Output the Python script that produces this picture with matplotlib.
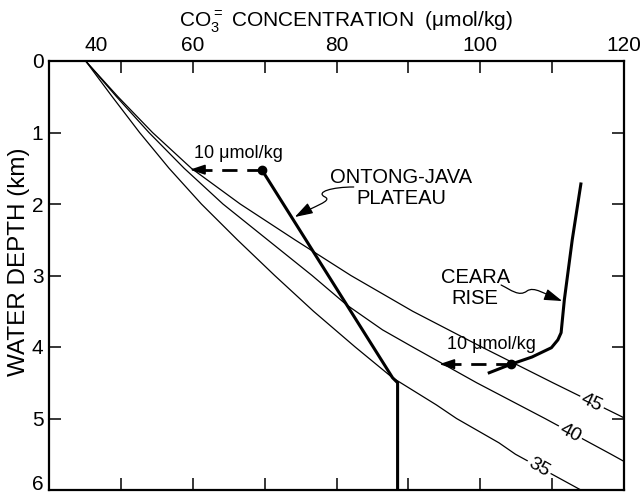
import matplotlib
matplotlib.use("Agg")
import matplotlib.pyplot as plt
from matplotlib.patches import FancyArrowPatch
from matplotlib.path import Path

plt.rcParams["font.family"] = ["Liberation Sans", "DejaVu Sans"]
plt.rcParams["mathtext.fontset"] = "custom"
plt.rcParams["mathtext.rm"] = "Liberation Sans"

# saturation curves (CO3= concentration vs depth), labelled by their value
sat_depth_45 = [0.0, 0.5, 1.0, 1.5, 2.0, 2.5, 3.0, 3.5, 4.0, 4.5, 4.99]
sat_conc_45 = [45.1, 49.6, 54.4, 59.8, 66.6, 74.2, 82.0, 90.6, 100.2, 110.1, 120.0]

sat_depth_40 = [0.0, 0.5, 1.0, 1.5, 2.0, 2.5, 3.0, 3.41, 3.76, 4.0, 4.5, 5.0, 5.5, 5.6]
sat_conc_40 = [45.1, 49.4, 53.9, 58.8, 64.2, 70.4, 76.6, 81.4, 86.4, 90.6, 99.5, 109.0, 118.2, 120.0]

sat_depth_35 = [0.0, 0.5, 1.0, 1.5, 2.0, 2.5, 3.0, 3.5, 4.0, 4.43, 4.81, 5.0, 5.34, 5.5, 6.0]
sat_conc_35 = [45.1, 48.8, 52.6, 56.7, 61.2, 66.2, 71.4, 76.8, 82.6, 87.8, 93.9, 96.7, 102.6, 104.9, 114.0]

sat_labels = ["45", "40", "35"]
sat_label_pos = [(115.5, 4.78), (112.5, 5.20), (108.2, 5.68)]
sat_label_rot = [-26, -28, -30]

# measured profiles
ontong_depth = [1.52, 4.43, 4.50, 6.0]
ontong_conc = [69.6, 87.8, 88.5, 88.5]

ceara_depth = [1.72, 2.5, 3.34, 3.80, 3.90, 4.01, 4.14, 4.24, 4.36]
ceara_conc = [114.0, 112.8, 111.7, 111.25, 110.8, 109.9, 107.2, 104.3, 101.25]

# 10 umol/kg offsets
shift = 10
ontong_dot = (69.6, 1.52)
ceara_dot = (104.3, 4.24)

x_ticks = [40, 60, 80, 100, 120]
x_minor = [50, 70, 90, 110]
y_ticks = [0, 1, 2, 3, 4, 5, 6]

fig = plt.figure(figsize=(6.4, 4.93), dpi=100)
ax = fig.add_axes([49 / 640, 3 / 493, 575 / 640, 429 / 493])

thin = dict(color="black", lw=0.9, solid_capstyle="butt")
ax.plot(sat_conc_45, sat_depth_45, **thin)
ax.plot(sat_conc_40, sat_depth_40, **thin)
ax.plot(sat_conc_35, sat_depth_35, **thin)

for text, (cx, cy), rot in zip(sat_labels, sat_label_pos, sat_label_rot):
    ax.text(cx, cy, text, fontsize=14, rotation=rot, rotation_mode="anchor",
            ha="center", va="center",
            bbox=dict(facecolor="white", edgecolor="none", pad=1.5))

ax.plot(ontong_conc, ontong_depth, color="black", lw=2.2, solid_joinstyle="miter")
ax.plot(ceara_conc, ceara_depth, color="black", lw=2.2)


def shift_arrow(dot, label_xy):
    x0, y0 = dot
    x1 = x0 - shift
    ax.plot([x0, x1 + 1.2], [y0, y0], color="black", lw=2, ls=(0, (5.5, 3.5)))
    ax.annotate("", xy=(x1, y0), xytext=(x1 + 1.6, y0),
                arrowprops=dict(arrowstyle="-|>,head_length=0.9,head_width=0.3",
                                color="black", lw=1.2, shrinkA=0, shrinkB=0))
    ax.plot([x0], [y0], "o", color="black", ms=6)
    ax.text(label_xy[0], label_xy[1], "10 \u03bcmol/kg", fontsize=13,
            ha="center", va="center")


shift_arrow(ontong_dot, (66.3, 1.29))
shift_arrow(ceara_dot, (101.5, 3.97))


def wiggle(points):
    codes = [Path.MOVETO] + [Path.CURVE4] * (len(points) - 1)
    arrow = FancyArrowPatch(path=Path(points, codes),
                            arrowstyle="-|>,head_length=1.0,head_width=0.32",
                            mutation_scale=11, color="black", lw=0.9)
    ax.add_patch(arrow)


wiggle([(82.4, 1.762), (79.4, 1.762), (77.0, 1.832), (78.4, 1.902),
        (79.5, 1.958), (76.9, 2.028), (74.2, 2.182)])
wiggle([(102.9, 3.133), (104.3, 3.203), (105.4, 3.301), (106.5, 3.217),
        (107.5, 3.147), (108.9, 3.259), (111.4, 3.357)])

ax.text(89.0, 1.78, "ONTONG-JAVA\nPLATEAU", fontsize=14.5, ha="center",
        va="center", linespacing=1.15)
ax.text(99.3, 3.17, "CEARA\nRISE", fontsize=14.5, ha="center",
        va="center", linespacing=1.15)

ax.set_xlim(40, 120)
ax.set_ylim(6, 0)

ax.xaxis.tick_top()
ax.set_xticks(x_ticks)
ax.set_xticks(x_minor, minor=True)
ax.set_xticklabels([""] + [str(v) for v in x_ticks[1:]])
ax.set_yticks(y_ticks)
ax.set_yticklabels([str(v) for v in y_ticks[:-1]] + [""])
ax.tick_params(axis="both", which="both", direction="in", length=8.5,
               width=1.1, labelsize=15, pad=4,
               top=True, bottom=True, left=True, right=True,
               labeltop=True, labelbottom=False, labelleft=True, labelright=False)

# end labels are nudged so they stay clear of the corners
trans, va, ha = ax.get_xaxis_text2_transform(4)
ax.text(46.6, 1, str(x_ticks[0]), transform=trans, va=va, ha=ha, fontsize=15)
trans, va, ha = ax.get_yaxis_text1_transform(4)
ax.text(0, y_ticks[-1], str(y_ticks[-1]), transform=trans, va="baseline", ha=ha,
        fontsize=15)

for spine in ax.spines.values():
    spine.set_linewidth(1.6)

ax.xaxis.set_label_position("top")
ax.set_xlabel("CO$\\mathregular{_3^=}$ CONCENTRATION  (\u03bcmol/kg)", fontsize=15,
              labelpad=7)
ax.xaxis.label.set_x(0.516)
ax.set_ylabel("WATER DEPTH (km)", fontsize=17.5)
ax.yaxis.set_label_coords(-0.033, 0.532)

fig.savefig("out.png", dpi=100)
